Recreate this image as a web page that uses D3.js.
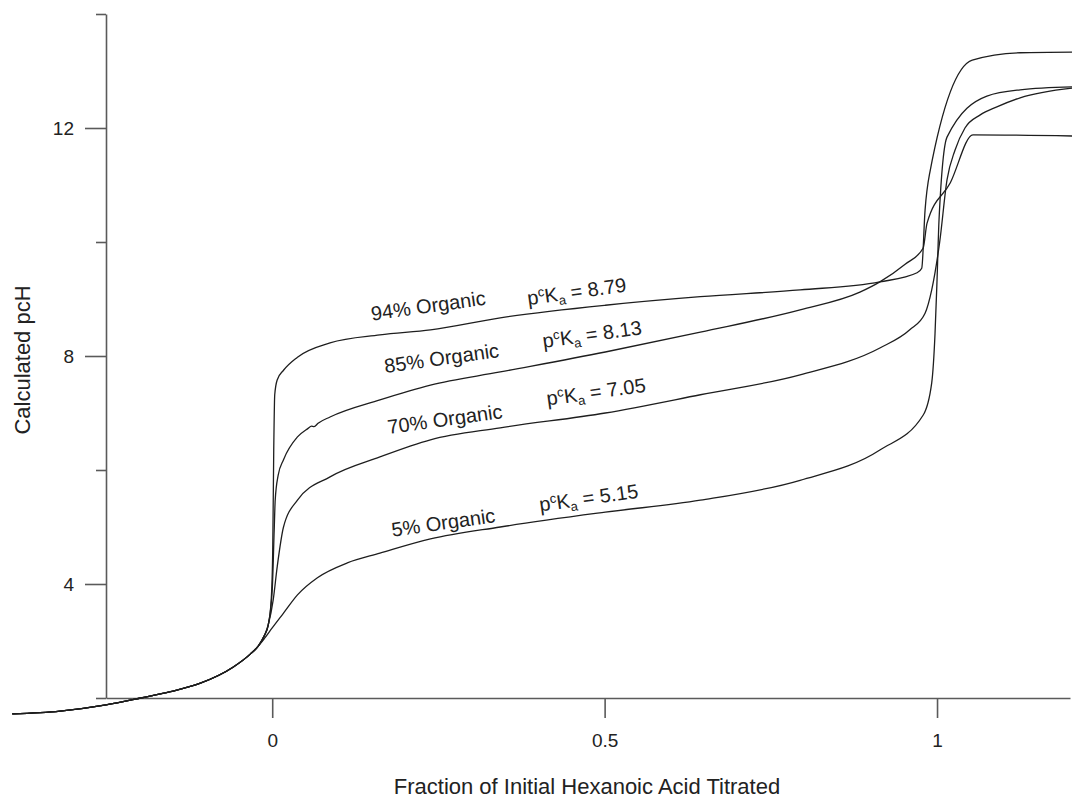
<!DOCTYPE html>
<html>
<head>
<meta charset="utf-8">
<script src="https://cdn.jsdelivr.net/npm/d3@7"></script>
<style>
  html, body { margin: 0; padding: 0; background: #fff; }
  svg { display: block; font-family: Arial, "Liberation Sans", sans-serif; }
</style>
</head>
<body>
<svg id="chart" width="1073" height="801"></svg>
<script>
// ---- Data (x = fraction titrated, y = calculated pcH) ----
const commonTail = [
  [-0.391, 1.72], [-0.319, 1.77], [-0.250, 1.88], [-0.198, 2.00], [-0.153, 2.11],
  [-0.108, 2.26], [-0.059, 2.54], [-0.033, 2.77], [-0.021, 2.91]
];
const organic5 = [
  [-0.012, 3.04], [0.000, 3.23], [0.017, 3.49], [0.038, 3.81], [0.068, 4.11],
  [0.113, 4.37], [0.162, 4.54], [0.238, 4.79], [0.343, 5.00], [0.501, 5.26],
  [0.644, 5.47], [0.794, 5.82], [0.914, 6.35], [0.979, 6.96], [0.992, 7.53],
  [0.997, 8.40], [1.000, 9.33], [1.003, 10.39], [1.015, 11.84], [1.075, 12.56],
  [1.125, 12.67], [1.203, 12.72]
];
const organic70 = [
  [-0.012, 3.09], [-0.006, 3.28], [0.0015, 3.72], [0.0075, 4.30], [0.017, 5.00],
  [0.038, 5.47], [0.087, 5.88], [0.162, 6.23], [0.238, 6.53], [0.343, 6.74],
  [0.501, 7.00], [0.644, 7.32], [0.794, 7.67], [0.914, 8.14], [0.959, 8.46],
  [0.982, 8.75], [0.992, 9.16], [1.004, 10.00], [1.015, 11.09], [1.027, 11.61],
  [1.042, 12.00], [1.065, 12.23], [1.090, 12.37], [1.125, 12.53], [1.203, 12.70]
];
const organic85 = [
  [-0.012, 3.09], [-0.006, 3.28], [0.000, 3.89], [0.003, 4.95], [0.0045, 5.47],
  [0.009, 5.91], [0.017, 6.18], [0.038, 6.58], [0.054, 6.73], [0.059, 6.77],
  [0.063, 6.76], [0.069, 6.82], [0.087, 6.93], [0.162, 7.23], [0.238, 7.49],
  [0.343, 7.72], [0.501, 8.07], [0.644, 8.42], [0.794, 8.81], [0.884, 9.12],
  [0.914, 9.30], [0.952, 9.61], [0.979, 9.89], [0.985, 10.33], [1.020, 11.04],
  [1.054, 11.88], [1.203, 11.86]
];
const organic94 = [
  [-0.012, 3.09], [-0.006, 3.28], [-0.0015, 3.72], [0.0008, 4.60], [0.0023, 6.35],
  [0.0038, 7.32], [0.0075, 7.58], [0.017, 7.75], [0.038, 7.98], [0.087, 8.23],
  [0.162, 8.37], [0.238, 8.46], [0.343, 8.67], [0.501, 8.89], [0.644, 9.04],
  [0.794, 9.16], [0.914, 9.30], [0.970, 9.46], [0.977, 9.54], [0.982, 10.56],
  [0.989, 11.21], [1.053, 13.19], [1.125, 13.32], [1.203, 13.33]
];
const seriesNames = ["94% Organic", "85% Organic", "70% Organic", "5% Organic"];
const pKaValues = ["8.79", "8.13", "7.05", "5.15"];
const seriesData = [organic94, organic85, organic70, organic5];

const xTickValues = [0, 0.5, 1];
const xTickLabels = ["0", "0.5", "1"];
const yTickValues = [2, 4, 6, 8, 10, 12, 14];
const yLabelled = [4, 8, 12];

const xTitle = "Fraction of Initial Hexanoic Acid Titrated";
const yTitle = "Calculated pcH";

// ---- Layout ----
const svg = d3.select("#chart");
const x = d3.scaleLinear().domain([-0.25, 1.2]).range([106, 1070]);
const y = d3.scaleLinear().domain([2, 14]).range([698, 14]);

const axisColor = "#5a5a5a";
const textColor = "#222";

// Y axis
const yAxis = d3.axisLeft(y)
  .tickValues(yTickValues)
  .tickSizeOuter(0)
  .tickSizeInner(21)
  .tickPadding(11)
  .tickFormat(d => yLabelled.includes(d) ? String(d) : "");
const gy = svg.append("g").attr("transform", `translate(${x(-0.25)},0)`).call(yAxis);
gy.selectAll(".tick line").attr("x2", d => yLabelled.includes(d) ? -21 : -10);

// X axis
const xAxis = d3.axisBottom(x)
  .tickValues(xTickValues)
  .tickSizeOuter(0)
  .tickSizeInner(20)
  .tickPadding(16)
  .tickFormat((d, i) => xTickLabels[i]);
const gx = svg.append("g").attr("transform", `translate(0,${y(2)})`).call(xAxis);

[gx, gy].forEach(g => {
  g.select(".domain").attr("stroke", axisColor).attr("stroke-width", 1.6);
  g.selectAll(".tick line").attr("stroke", axisColor).attr("stroke-width", 1.6);
  g.selectAll(".tick text").attr("fill", textColor).style("font-size", "19px")
    .style("font-family", 'Arial, "Liberation Sans", sans-serif');
});

// Axis titles
svg.append("text")
  .attr("x", 587).attr("y", 794)
  .attr("text-anchor", "middle")
  .attr("fill", textColor)
  .style("font-size", "22px")
  .text(xTitle);

svg.append("text")
  .attr("transform", "translate(30,360) rotate(-90)")
  .attr("text-anchor", "middle")
  .attr("fill", textColor)
  .style("font-size", "22px")
  .text(yTitle);

// Curves
const line = d3.line()
  .x(d => x(d[0]))
  .y(d => y(d[1]))
  .curve(d3.curveMonotoneX);

seriesData.forEach(s => {
  svg.append("path")
    .datum(commonTail.concat(s))
    .attr("fill", "none")
    .attr("stroke", "#1e1e1e")
    .attr("stroke-width", 1.3)
    .attr("stroke-linejoin", "round")
    .attr("d", line);
});

// Curve labels (positions in data units)
const nameAnchors = [[0.150, 8.62], [0.170, 7.70], [0.175, 6.63], [0.181, 4.83]];
const pkaAnchors = [[0.385, 8.89], [0.408, 8.14], [0.414, 7.13], [0.403, 5.27]];
const labelAngle = -8;

seriesNames.forEach((name, i) => {
  const [nx, ny] = nameAnchors[i];
  svg.append("text")
    .attr("transform", `translate(${x(nx)},${y(ny)}) rotate(${labelAngle})`)
    .attr("fill", textColor)
    .style("font-size", "20px")
    .text(name);

  const [px, py] = pkaAnchors[i];
  const t = svg.append("text")
    .attr("transform", `translate(${x(px)},${y(py)}) rotate(${labelAngle})`)
    .attr("fill", textColor)
    .style("font-size", "20px");
  t.append("tspan").text("p");
  t.append("tspan").attr("dy", -7).style("font-size", "13px").text("c");
  t.append("tspan").attr("dy", 7).text("K");
  t.append("tspan").attr("dy", 4).style("font-size", "13px").text("a");
  t.append("tspan").attr("dy", -4).text(" = " + pKaValues[i]);
});
</script>
</body>
</html>
